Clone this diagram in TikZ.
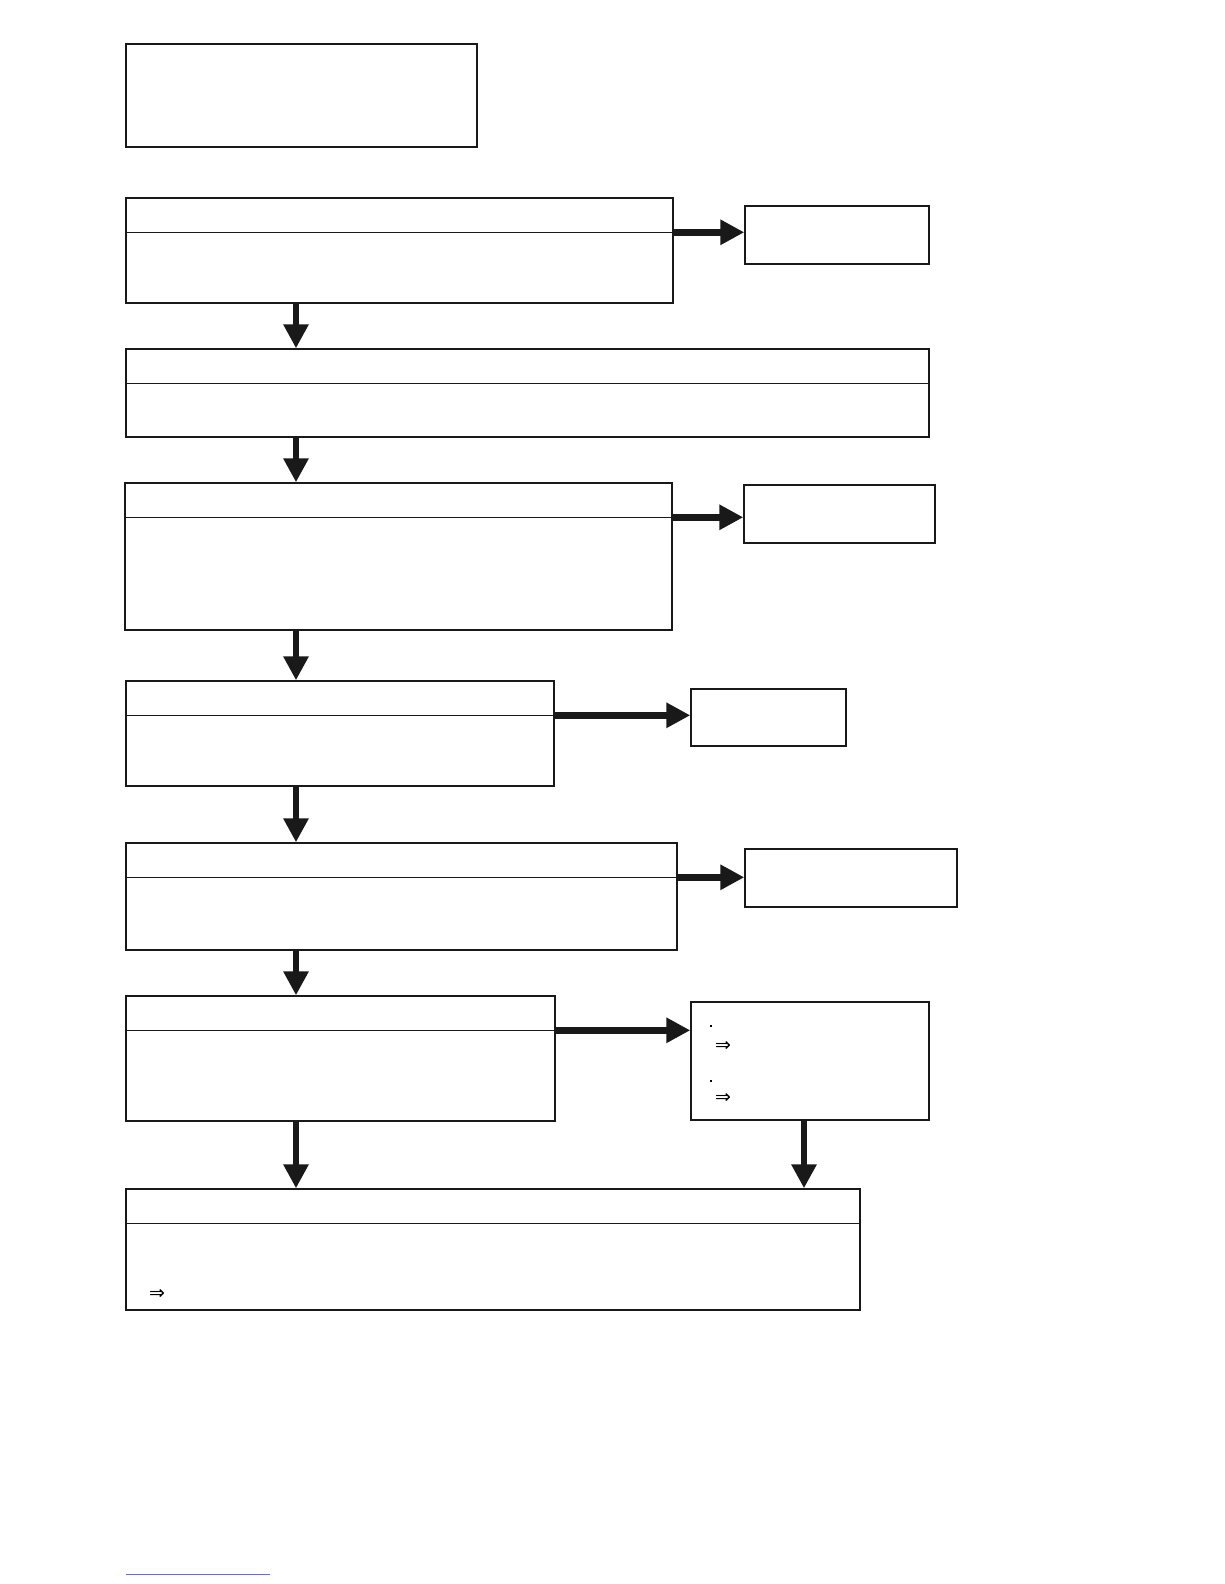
\documentclass[tikz,border=0pt]{standalone}
\usepackage{fontspec}
\newfontfamily\symfont{DejaVu Sans}
\usetikzlibrary{arrows.meta}

\begin{document}
\begin{tikzpicture}[x=1pt, y=-1pt,
  box/.style={draw=black!90, rectangle, line width=1.4pt, inner sep=0pt},
  rule/.style={draw=black!90, line width=1.4pt},
  arrow/.style={-{Triangle[length=24pt,width=24pt]}, line width=6.5pt, draw=black!90, fill=black!90},
  dotmark/.style={fill=black, rectangle, inner sep=0pt, minimum size=2.6pt},
  implies/.style={inner sep=0pt, font=\symfont\fontsize{19}{21}\selectfont}
]
\useasboundingbox (0,0) rectangle (1224,1584);

\node[box, minimum width=351pt, minimum height=103pt] (head) at (301.5, 95.5) {};

\node[box, minimum width=547pt, minimum height=105pt] (A) at (399.5, 250.5) {};
\node[box, minimum width=184pt, minimum height=58pt] (Ar) at (837, 235) {};

\node[box, minimum width=803pt, minimum height=88pt] (B) at (527.5, 393) {};

\node[box, minimum width=547pt, minimum height=147pt] (C) at (398.5, 556.5) {};
\node[box, minimum width=191pt, minimum height=58pt] (Cr) at (839.5, 514) {};

\node[box, minimum width=428pt, minimum height=105pt] (D) at (340, 733.5) {};
\node[box, minimum width=155pt, minimum height=57pt] (Dr) at (768.5, 717.5) {};

\node[box, minimum width=551pt, minimum height=107pt] (E) at (401.5, 896.5) {};
\node[box, minimum width=212pt, minimum height=58pt] (Er) at (851, 878) {};

\node[box, minimum width=429pt, minimum height=125pt] (F) at (340.5, 1058.5) {};
\node[box, minimum width=238pt, minimum height=118pt] (Fr) at (810, 1061) {};

\node[box, minimum width=734pt, minimum height=121pt] (G) at (493, 1249.5) {};

% header rules
\foreach \n in {A,B,C,D,E,F,G}
  \draw[rule] ([yshift=-35pt]\n.north west) -- ([yshift=-35pt]\n.north east) coordinate (\n-r);

% contents of the side box and the last box
\node[dotmark] (Fr-d1) at (711, 1026) {};
\node[implies] (Fr-i1) at (723, 1046) {⇒};
\node[dotmark] (Fr-d2) at (711, 1081) {};
\node[implies] (Fr-i2) at (723, 1098) {⇒};
\node[implies] (G-i1) at (157, 1294) {⇒};

% main flow
\coordinate (spine) at (296, 0);
\draw[arrow] (A.south -| spine) -- (B.north -| spine);
\draw[arrow] (B.south -| spine) -- (C.north -| spine);
\draw[arrow] (C.south -| spine) -- (D.north -| spine);
\draw[arrow] (D.south -| spine) -- (E.north -| spine);
\draw[arrow] (E.south -| spine) -- (F.north -| spine);
\draw[arrow] (F.south -| spine) -- (G.north -| spine);

% side branches
\draw[arrow] (A-r) -- (A-r -| Ar.west);
\draw[arrow] (C-r) -- (C-r -| Cr.west);
\draw[arrow] (D-r) -- (D-r -| Dr.west);
\draw[arrow] (E-r) -- (E-r -| Er.west);
\draw[arrow] (F-r) -- (F-r -| Fr.west);

\coordinate (join) at (804, 0);
\draw[arrow] (Fr.south -| join) -- (G.north -| join);

% footnote rule
\coordinate (fn-a) at (126, 1574);
\coordinate (fn-b) at (270, 1574);
\draw[blue!60, line width=0.8pt] (fn-a) -- (fn-b);

\end{tikzpicture}
\end{document}
